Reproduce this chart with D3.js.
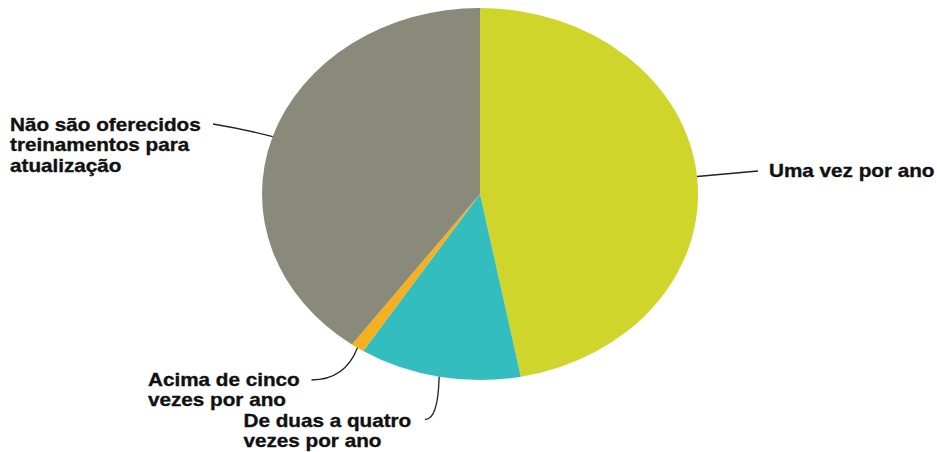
<!DOCTYPE html>
<html>
<head>
<meta charset="utf-8">
<script src="https://cdn.jsdelivr.net/npm/d3@7"></script>
<style>
  html, body { margin: 0; padding: 0; background: #fff; }
  svg { display: block; }
  .lbl { font-family: "Liberation Sans", Arial, sans-serif; font-weight: bold; font-size: 18px; fill: #111; stroke: #111; stroke-width: 0.35px; }
</style>
</head>
<body>
<svg id="chart" width="937" height="452"></svg>
<script>
// Frequência de treinamentos de atualização (%)
const categories = [
  "Uma vez por ano",
  "De duas a quatro vezes por ano",
  "Acima de cinco vezes por ano",
  "Não são oferecidos treinamentos para atualização"
];
const values = [47, 12, 1, 40];

// Label text, broken into lines
const labelLines = [
  ["Uma vez por ano"],
  ["De duas a quatro", "vezes por ano"],
  ["Acima de cinco", "vezes por ano"],
  ["Não são oferecidos", "treinamentos para", "atualização"]
];

const palette = ["#cfd52b", "#33bdbe", "#f4b01f", "#898a79"];

const W = 937, H = 452;
const cx = 480, cy = 194;
const r = 186;            // vertical radius
const sx = 218 / 186;     // horizontal stretch of the pie
const textScale = 1.15;

const svg = d3.select("#chart");

const data = categories.map((c, i) => ({ name: c, value: values[i], lines: labelLines[i] }));

const pie = d3.pie().sort(null).value(d => d.value).startAngle(0).endAngle(2 * Math.PI);
const arcs = pie(data);
const arc = d3.arc().innerRadius(0).outerRadius(r);
const color = d3.scaleOrdinal().domain(categories).range(palette);

const g = svg.append("g").attr("transform", `translate(${cx},${cy}) scale(${sx},1)`);
g.selectAll("path.slice")
  .data(arcs)
  .join("path")
  .attr("class", "slice")
  .attr("d", arc)
  .attr("fill", d => color(d.data.name));

// Point on the pie's rim at the middle of a slice, in page coordinates
function rimPoint(a) {
  const mid = (a.startAngle + a.endAngle) / 2;
  return [cx + sx * r * Math.sin(mid), cy - r * Math.cos(mid)];
}

// Label placement: text origin, leader end and curve control
const layout = [
  { x: 769, y: 177, end: [758, 171], ctrl: null },
  { x: 243.5, y: 427, end: [425, 419.5], ctrl: [438, 420] },
  { x: 148, y: 385.5, end: [311.5, 380], ctrl: [345, 380] },
  { x: 10, y: 131, end: [213, 124], ctrl: [243, 129] }
];
const lineGap = 20.5;

// Leader lines
svg.append("g")
  .selectAll("path")
  .data(arcs)
  .join("path")
  .attr("fill", "none")
  .attr("stroke", "#222")
  .attr("stroke-width", 1.3)
  .attr("d", (a, i) => {
    const p = d3.path();
    const s = rimPoint(a);
    const L = layout[i];
    p.moveTo(s[0], s[1]);
    if (L.ctrl) p.quadraticCurveTo(L.ctrl[0], L.ctrl[1], L.end[0], L.end[1]);
    else p.lineTo(L.end[0], L.end[1]);
    return p.toString();
  });

// Labels
const labels = svg.append("g")
  .selectAll("g")
  .data(arcs)
  .join("g")
  .attr("transform", (a, i) => `translate(${layout[i].x},${layout[i].y}) scale(${textScale},1)`);

labels.append("text")
  .attr("class", "lbl")
  .selectAll("tspan")
  .data(a => a.data.lines)
  .join("tspan")
  .attr("x", 0)
  .attr("y", (d, j) => j * lineGap)
  .text(d => d);
</script>
</body>
</html>
